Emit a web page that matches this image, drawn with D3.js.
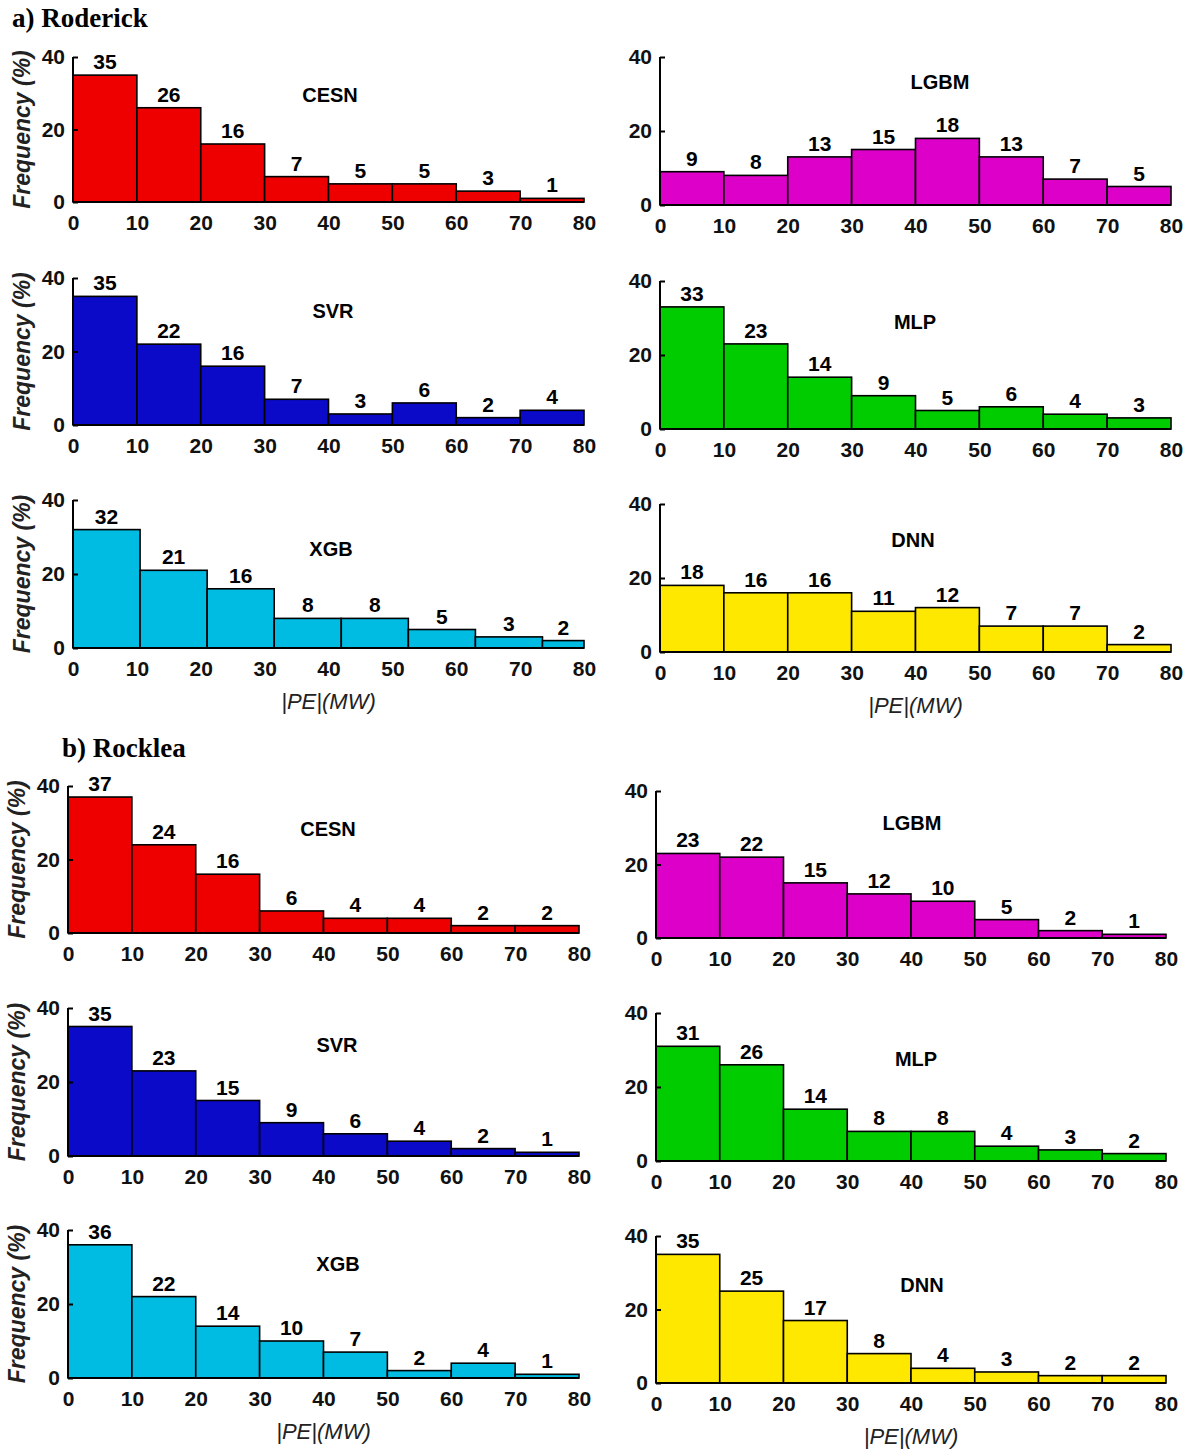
<!DOCTYPE html>
<html>
<head>
<meta charset="utf-8">
<script src="https://cdn.jsdelivr.net/npm/d3@7"></script>
<style>
  body { margin: 0; background: #fff; }
  svg text { font-family: Arial, "Liberation Sans", sans-serif; }
</style>
</head>
<body>
<div id="chart"></div>
<script>
// data (frequency %, per 10 MW bin)
var models = ["CESN", "LGBM", "SVR", "MLP", "XGB", "DNN"];
var xTicks = [0, 10, 20, 30, 40, 50, 60, 70, 80];
var yTicks = [0, 20, 40];
var binEdges = [0, 10, 20, 30, 40, 50, 60, 70, 80];
var xgbEdgesRoderick = [0, 10.5, 21, 31.5, 42, 52.5, 63, 73.5, 80];

var roderickCESN = [35, 26, 16, 7, 5, 5, 3, 1];
var roderickLGBM = [9, 8, 13, 15, 18, 13, 7, 5];
var roderickSVR  = [35, 22, 16, 7, 3, 6, 2, 4];
var roderickMLP  = [33, 23, 14, 9, 5, 6, 4, 3];
var roderickXGB  = [32, 21, 16, 8, 8, 5, 3, 2];
var roderickDNN  = [18, 16, 16, 11, 12, 7, 7, 2];

var rockleaCESN = [37, 24, 16, 6, 4, 4, 2, 2];
var rockleaLGBM = [23, 22, 15, 12, 10, 5, 2, 1];
var rockleaSVR  = [35, 23, 15, 9, 6, 4, 2, 1];
var rockleaMLP  = [31, 26, 14, 8, 8, 4, 3, 2];
var rockleaXGB  = [36, 22, 14, 10, 7, 2, 4, 1];
var rockleaDNN  = [35, 25, 17, 8, 4, 3, 2, 2];

var colors = {
  CESN: "#ee0000", LGBM: "#dd00c8", SVR: "#0a0ac8",
  MLP: "#00cc00", XGB: "#00bce2", DNN: "#ffe800"
};

// panel layout: x pixel range for 0..80, y pixel for 0 and 40, model label centre
var panels = [
  { vals: roderickCESN, model: "CESN", edges: binEdges, xr: [73, 584],  yr: [202, 57],  lab: [330, 97],  ylab: true },
  { vals: roderickLGBM, model: "LGBM", edges: binEdges, xr: [660, 1171], yr: [205, 57],  lab: [940, 84] },
  { vals: roderickSVR,  model: "SVR",  edges: binEdges, xr: [73, 584],  yr: [425, 278], lab: [333, 313], ylab: true },
  { vals: roderickMLP,  model: "MLP",  edges: binEdges, xr: [660, 1171], yr: [429, 281], lab: [915, 324] },
  { vals: roderickXGB,  model: "XGB",  edges: xgbEdgesRoderick, xr: [73, 584], yr: [648, 500], lab: [331, 551], ylab: true, xlab: true },
  { vals: roderickDNN,  model: "DNN",  edges: binEdges, xr: [660, 1171], yr: [652, 504], lab: [913, 542], xlab: true },

  { vals: rockleaCESN, model: "CESN", edges: binEdges, xr: [68, 579],  yr: [933, 786],   lab: [328, 831],  ylab: true },
  { vals: rockleaLGBM, model: "LGBM", edges: binEdges, xr: [656, 1166], yr: [938, 791],  lab: [912, 825] },
  { vals: rockleaSVR,  model: "SVR",  edges: binEdges, xr: [68, 579],  yr: [1156, 1008], lab: [337, 1047], ylab: true },
  { vals: rockleaMLP,  model: "MLP",  edges: binEdges, xr: [656, 1166], yr: [1161, 1013], lab: [916, 1061] },
  { vals: rockleaXGB,  model: "XGB",  edges: binEdges, xr: [68, 579],  yr: [1378, 1230], lab: [338, 1266], ylab: true, xlab: true },
  { vals: rockleaDNN,  model: "DNN",  edges: binEdges, xr: [656, 1166], yr: [1383, 1236], lab: [922, 1287], xlab: true }
];

var svg = d3.select("#chart")
  .append("svg")
  .attr("width", 1190)
  .attr("height", 1451);

// section titles
svg.append("text")
  .attr("x", 12).attr("y", 27)
  .style("font-family", "'Liberation Serif', 'Times New Roman', serif")
  .style("font-size", "27px").style("font-weight", "bold")
  .text("a) Roderick");

svg.append("text")
  .attr("x", 62).attr("y", 757)
  .style("font-family", "'Liberation Serif', 'Times New Roman', serif")
  .style("font-size", "27px").style("font-weight", "bold")
  .text("b) Rocklea");

panels.forEach(function(p) {
  var x = d3.scaleLinear().domain([0, 80]).range(p.xr);
  var y = d3.scaleLinear().domain([0, 40]).range(p.yr);
  var g = svg.append("g");

  var bins = p.vals.map(function(v, i) {
    return { x0: p.edges[i], x1: p.edges[i + 1], v: v };
  });

  // bars
  g.selectAll("rect")
    .data(bins)
    .enter()
    .append("rect")
    .attr("x", d => x(d.x0))
    .attr("width", d => x(d.x1) - x(d.x0))
    .attr("y", d => y(d.v))
    .attr("height", d => y(0) - y(d.v))
    .attr("fill", colors[p.model])
    .attr("stroke", "#000")
    .attr("stroke-width", 1.6);

  // value labels
  g.selectAll(".val")
    .data(bins)
    .enter()
    .append("text")
    .attr("class", "val")
    .attr("x", d => x((d.x0 + d.x1) / 2))
    .attr("y", d => y(d.v) - 6)
    .attr("text-anchor", "middle")
    .style("font-size", "21px").style("font-weight", "bold")
    .text(d => d.v);

  // axes
  var bottomAxis = d3.axisBottom(x).tickValues(xTicks).tickSize(0).tickPadding(13);
  var leftAxis = d3.axisLeft(y).tickValues(yTicks).tickSize(-5).tickPadding(8);

  var xa = g.append("g")
    .attr("transform", `translate(0, ${p.yr[0]})`)
    .call(bottomAxis);
  var ya = g.append("g")
    .attr("transform", `translate(${p.xr[0]}, 0)`)
    .call(leftAxis);

  [xa, ya].forEach(function(a) {
    a.select(".domain").attr("stroke", "#000").attr("stroke-width", 2);
    a.selectAll(".tick line").attr("stroke", "#000").attr("stroke-width", 2);
    a.selectAll("text")
      .attr("fill", "#111")
      .style("font-size", "21px").style("font-weight", "bold")
      .style("font-family", "Arial, 'Liberation Sans', sans-serif");
  });
  ya.select(".domain").attr("d", `M0,${p.yr[0]}V${p.yr[1]}`);
  xa.select(".domain").attr("d", `M${p.xr[0]},0H${p.xr[1]}`);

  // model name
  g.append("text")
    .attr("x", p.lab[0]).attr("y", p.lab[1])
    .attr("text-anchor", "middle")
    .attr("dominant-baseline", "middle")
    .style("font-size", "20px").style("font-weight", "bold")
    .text(p.model);

  if (p.ylab) {
    g.append("text")
      .attr("transform", `translate(${p.xr[0] - 43}, ${(p.yr[0] + p.yr[1]) / 2}) rotate(-90)`)
      .attr("text-anchor", "middle")
      .style("font-size", "23px").style("font-style", "italic")
      .style("font-weight", "bold").style("fill", "#222")
      .text("Frequency (%)");
  }
  if (p.xlab) {
    g.append("text")
      .attr("x", (p.xr[0] + p.xr[1]) / 2)
      .attr("y", p.yr[0] + 61)
      .attr("text-anchor", "middle")
      .style("font-size", "22px").style("font-style", "italic")
      .style("fill", "#222")
      .text("|PE|(MW)");
  }
});
</script>
</body>
</html>
